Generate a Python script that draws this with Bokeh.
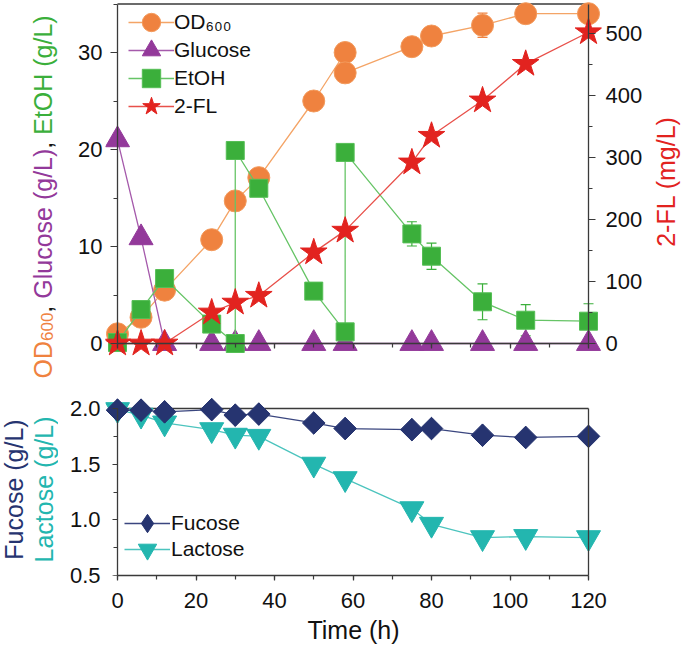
from math import pi
from bokeh.plotting import figure
from bokeh.models import (Range1d, LinearAxis, SingleIntervalTicker, FixedTicker, Label,
                          Legend, LegendItem, ColumnDataSource, Whisker, TeeHead,
                          CustomJSTickFormatter, PrintfTickFormatter)
from bokeh.layouts import column, row
from bokeh.embed import file_html
from bokeh.resources import INLINE

# ---------------- data ----------------
od_time = [0, 6, 12, 24, 30, 36, 50, 58, 58, 75, 80, 93, 104, 120]
od600 = [1.0, 2.7, 5.5, 10.7, 14.7, 17.1, 25.0, 30.0, 27.9, 30.6, 31.7, 32.8, 34.0, 34.0]
od600_err = [0, 0, 0, 0, 0, 0, 0, 0, 0, 0, 0, 1.25, 0, 0]

glc_time = [0, 6, 12, 24, 30, 36, 50, 58, 75, 80, 93, 104, 120]
glucose = [21.0, 10.9, 0, 0, 0, 0, 0, 0, 0, 0, 0, 0, 0]

etoh_time = [0, 6, 12, 24, 30, 30, 36, 50, 58, 58, 75, 80, 93, 104, 120]
etoh = [0.1, 3.5, 6.7, 2.0, 0.0, 19.9, 16.0, 5.4, 1.2, 19.7, 11.3, 9.0, 4.3, 2.4, 2.3]
etoh_err = [0, 0, 0, 0, 0, 0, 0, 0, 0, 0, 1.25, 1.35, 1.85, 1.6, 1.8]

fl_time = [0, 6, 12, 24, 30, 36, 50, 58, 75, 80, 93, 104, 120]
fl2 = [0, 0, 0, 50, 66, 77, 147, 182, 292, 335, 392, 451, 502]

sugar_time = [0, 6, 12, 24, 30, 36, 50, 58, 75, 80, 93, 104, 120]
fucose = [1.985, 1.985, 1.97, 1.99, 1.94, 1.95, 1.87, 1.82, 1.81, 1.82, 1.76, 1.74, 1.75]
lactose = [1.99, 1.94, 1.87, 1.81, 1.76, 1.75, 1.50, 1.37, 1.10, 0.96, 0.84, 0.85, 0.84]

# axis limits
X_MIN, X_MAX = 0, 120
Y1_MIN, Y1_MAX = 0, 35
Y2_MIN, Y2_MAX = 0, 547.5
Y3_MIN, Y3_MAX = 0.5, 2.0

# ---------------- style / layout ----------------
FONT = "Liberation Sans"
ORANGE, ORANGE_L = "#EF823F", "#F4A466"
PURPLE, PURPLE_L = "#93399A", "#A55AAB"
GREEN, GREEN_L = "#3BAF3B", "#66C466"
RED, RED_L = "#E2231F", "#E8504A"
NAVY, NAVY_L = "#263470", "#3A467F"
TEAL, TEAL_L = "#23B6AF", "#4CC4BE"
AX = "#3a3a3a"
TXT = "#111111"

PAGE_W, PAGE_H = 685, 652
WL, WR = 58, 37                 # side title strips
X0_PAGE, PXH = 117, 471 / 120.0  # page x of t=0, px per hour
FR_L, FR_R = 105, 601           # page x of frame edges (a little outside the axes)
H1 = 381
Y0_PAGE1, PX1 = 343, 9.7        # page y of y=0 in top panel, px per unit
FR1_BOT = 357
Y3_PAGE_TOP, PX3 = 408, 167 / 1.5
FR2_TOP, FR2_BOT = 395, 575
H2 = PAGE_H - H1
LEG_GW, LEG_GH, LEG_SP = 46, 50, 6

ARIAL = {'O': .778, 'D': .722, '6': .556, '0': .556, ',': .278, ' ': .278, 'G': .778,
         'l': .222, 'u': .556, 'c': .5, 'o': .556, 's': .5, 'e': .556, '(': .333,
         'g': .556, '/': .278, 'L': .556, ')': .333, 'E': .667, 't': .278, 'H': .722}


def tlen(s, size):
    return sum(ARIAL[c] for c in s) * size


def style_axis(ax, tick_size="22px"):
    ax.axis_line_color = AX
    ax.axis_line_width = 1.3
    ax.major_tick_line_color = AX
    ax.minor_tick_line_color = AX
    ax.major_tick_line_width = 1.2
    ax.minor_tick_line_width = 1.2
    ax.major_label_text_font = FONT
    ax.major_label_text_font_size = tick_size
    ax.major_label_text_color = TXT


def labels_only(ax, standoff):
    ax.axis_line_color = None
    ax.major_tick_line_color = None
    ax.minor_tick_line_color = None
    ax.major_tick_out = ax.major_tick_in = 0
    ax.minor_tick_out = ax.minor_tick_in = 0
    ax.major_label_standoff = standoff
    ax.major_label_text_font = FONT
    ax.major_label_text_font_size = "22px"
    ax.major_label_text_color = TXT


def line_only_axis(**kw):
    ax = LinearAxis(formatter=CustomJSTickFormatter(code="return ''"), **kw)
    style_axis(ax)
    ax.major_label_standoff = 0
    ax.major_label_text_font_size = "0px"
    return ax


def strip(width, height, x0, y_top, y_bot, b_top=0, b_bot=0):
    # data units of a strip = page pixels (y counted downward as negative numbers)
    f = figure(width=width, height=height, output_backend="svg", toolbar_location=None,
               x_range=Range1d(x0, x0 + width), y_range=Range1d(-y_bot, -y_top),
               x_axis_location=None, y_axis_location=None,
               min_border_left=0, min_border_right=0,
               min_border_top=b_top, min_border_bottom=b_bot)
    f.outline_line_color = None
    f.grid.visible = False
    f.background_fill_color = "white"
    f.border_fill_color = "white"
    return f


def xr():
    return Range1d(X_MIN + (FR_L - X0_PAGE) / PXH, X_MIN + (FR_R - X0_PAGE) / PXH)


def legend(items, key_center_x, last_row_center_y, frame_bot, standoff):
    return Legend(items=items,
                  location=(key_center_x - LEG_GW / 2 - FR_L,
                            frame_bot - (last_row_center_y + LEG_GH / 2)),
                  padding=0, margin=0, spacing=LEG_SP,
                  glyph_width=LEG_GW, glyph_height=LEG_GH,
                  label_standoff=standoff, label_text_font=FONT,
                  label_text_font_size="21px", label_text_color=TXT,
                  border_line_color=None, background_fill_alpha=0)


# ================= top panel =================
W1 = PAGE_W - WL - WR
y_hi = Y0_PAGE1 / PX1
y_lo = -(FR1_BOT - Y0_PAGE1) / PX1
ratio = Y2_MAX / Y1_MAX
p1 = figure(width=W1, height=H1, output_backend="svg", toolbar_location=None,
            x_range=xr(), y_range=Range1d(y_lo, y_hi),
            min_border_left=FR_L - WL, min_border_right=(PAGE_W - WR) - FR_R,
            min_border_top=0, min_border_bottom=H1 - FR1_BOT)
p1.extra_y_ranges = {"fl": Range1d(y_lo * ratio, y_hi * ratio)}
p1.outline_line_color = None
p1.grid.visible = False
p1.background_fill_color = "white"
p1.border_fill_color = "white"

yl = p1.yaxis[0]
yl.ticker = SingleIntervalTicker(interval=10)
labels_only(yl, 3)
ax_l = line_only_axis(fixed_location=X_MIN, bounds=(Y1_MIN, Y1_MAX),
                      ticker=SingleIntervalTicker(interval=10, num_minor_ticks=2))
ax_l.major_tick_out, ax_l.major_tick_in = 7, 0
ax_l.minor_tick_out, ax_l.minor_tick_in = 4, 0
p1.add_layout(ax_l, "left")
ax_r = line_only_axis(fixed_location=X_MAX, bounds=(Y2_MIN, Y2_MAX), y_range_name="fl",
                      ticker=SingleIntervalTicker(interval=100, num_minor_ticks=2))
ax_r.major_tick_out, ax_r.major_tick_in = 0, 7
ax_r.minor_tick_out, ax_r.minor_tick_in = 0, 4
p1.add_layout(ax_r, "left")
yr = LinearAxis(y_range_name="fl", ticker=SingleIntervalTicker(interval=100))
labels_only(yr, 4)
p1.add_layout(yr, "right")

xb = p1.xaxis[0]
xb.ticker = SingleIntervalTicker(interval=20, num_minor_ticks=2)
xb.fixed_location = Y1_MIN
xb.bounds = (X_MIN, X_MAX)
xb.formatter = CustomJSTickFormatter(code="return ''")
style_axis(xb)
xb.major_label_standoff = 0
xb.major_label_text_font_size = "0px"
xb.major_tick_out, xb.major_tick_in = 5, 0
xb.minor_tick_out, xb.minor_tick_in = 4, 0

p1.segment(x0=[X_MIN], y0=[Y1_MAX], x1=[X_MAX], y1=[Y1_MAX], line_color=AX, line_width=1.3)


def err_source(t, v, e):
    keep = [i for i, ee in enumerate(e) if ee > 0]
    return ColumnDataSource(dict(x=[t[i] for i in keep],
                                 upper=[v[i] + e[i] for i in keep],
                                 lower=[v[i] - e[i] for i in keep]))


for src, col in ((err_source(od_time, od600, od600_err), ORANGE),
                 (err_source(etoh_time, etoh, etoh_err), GREEN)):
    p1.add_layout(Whisker(source=src, base="x", upper="upper", lower="lower",
                          line_color=col, line_width=1.2, level="underlay",
                          upper_head=TeeHead(size=10, line_color=col, line_width=1.2),
                          lower_head=TeeHead(size=10, line_color=col, line_width=1.2)))

l_od = p1.line(od_time, od600, line_color=ORANGE_L, line_width=1.3)
s_od = p1.scatter(od_time, od600, marker="circle", size=22, fill_color=ORANGE,
                  line_color="#F39A5C", line_width=1)
l_gl = p1.line(glc_time, glucose, line_color=PURPLE_L, line_width=1.3)
s_gl = p1.scatter(glc_time, glucose, marker="triangle", size=24, fill_color=PURPLE,
                  line_color=PURPLE, line_width=1)
l_et = p1.line(etoh_time, etoh, line_color=GREEN_L, line_width=1.3)
s_et = p1.scatter(etoh_time, etoh, marker="square", size=18, fill_color=GREEN,
                  line_color="#55BE55", line_width=1)
l_fl = p1.line(fl_time, fl2, line_color=RED_L, line_width=1.3, y_range_name="fl")
s_fl = p1.scatter(fl_time, fl2, marker="star", size=28, fill_color=RED,
                  line_color=RED, line_width=1, y_range_name="fl")

# two interleaved legends give a 28 px row pitch with tall glyph boxes
p1.add_layout(legend([LegendItem(label="OD\u2086\u2080\u2080", renderers=[l_od, s_od]),
                      LegendItem(label="EtOH", renderers=[l_et, s_et])],
                     151, 78, FR1_BOT, 0))
p1.add_layout(legend([LegendItem(label="Glucose", renderers=[l_gl, s_gl]),
                      LegendItem(label="2-FL", renderers=[l_fl, s_fl])],
                     151, 106, FR1_BOT, 0))

# right title strip (same vertical borders as the top panel)
labr = strip(WR, H1, PAGE_W - WR, 0, FR1_BOT, 0, H1 - FR1_BOT)
labr.add_layout(Label(x=665, y=-181, text="2-FL (mg/L)", angle=pi / 2,
                      angle_units="rad", text_align="center", text_baseline="middle",
                      text_font=FONT, text_font_size="25px", text_color=RED))

# ================= bottom panel =================
W2 = PAGE_W - WL
y3_hi = Y3_MAX + (Y3_PAGE_TOP - FR2_TOP) / PX3
p2 = figure(width=W2, height=H2, output_backend="svg", toolbar_location=None,
            x_range=xr(), y_range=Range1d(Y3_MIN, y3_hi),
            min_border_left=FR_L - WL, min_border_right=PAGE_W - FR_R,
            min_border_top=FR2_TOP - H1, min_border_bottom=PAGE_H - FR2_BOT)
p2.outline_line_color = None
p2.grid.visible = False
p2.background_fill_color = "white"
p2.border_fill_color = "white"

yl2 = p2.yaxis[0]
yl2.ticker = SingleIntervalTicker(interval=0.5)
yl2.formatter = PrintfTickFormatter(format="%.1f")
labels_only(yl2, 5)
ax_l2 = line_only_axis(fixed_location=X_MIN, bounds=(Y3_MIN, Y3_MAX),
                       ticker=SingleIntervalTicker(interval=0.5, num_minor_ticks=2))
ax_l2.major_tick_out, ax_l2.major_tick_in = 5, 0
ax_l2.minor_tick_out, ax_l2.minor_tick_in = 4, 0
p2.add_layout(ax_l2, "left")
ax_r2 = line_only_axis(fixed_location=X_MAX, bounds=(Y3_MIN, Y3_MAX), ticker=FixedTicker(ticks=[]))
ax_r2.major_tick_out = ax_r2.major_tick_in = 0
p2.add_layout(ax_r2, "left")

xb2 = p2.xaxis[0]
xb2.ticker = SingleIntervalTicker(interval=20, num_minor_ticks=2)
xb2.bounds = (X_MIN, X_MAX)
style_axis(xb2)
xb2.major_tick_out, xb2.major_tick_in = 5, 0
xb2.minor_tick_out, xb2.minor_tick_in = 4, 0
xb2.major_label_standoff = 12
xb2.axis_label = "Time (h)"
xb2.axis_label_text_font = FONT
xb2.axis_label_text_font_size = "25px"
xb2.axis_label_text_font_style = "normal"
xb2.axis_label_text_color = TXT
xb2.axis_label_standoff = 5

p2.segment(x0=[X_MIN], y0=[Y3_MAX], x1=[X_MAX], y1=[Y3_MAX], line_color=AX, line_width=1.3)

l_la = p2.line(sugar_time, lactose, line_color=TEAL_L, line_width=1.3)
s_la = p2.scatter(sugar_time, lactose, marker="inverted_triangle", size=24, fill_color=TEAL,
                  line_color=TEAL, line_width=1)
l_fu = p2.line(sugar_time, fucose, line_color=NAVY_L, line_width=1.3)
# diamond (used by the legend key) sits fully inside the rotated square of each point
d_fu = p2.scatter(sugar_time, fucose, marker="diamond", size=22,
                  fill_color=NAVY, line_color=NAVY, line_width=1)
s_fu = p2.scatter(sugar_time, fucose, marker="square", angle=pi / 4, size=16,
                  fill_color=NAVY, line_color=NAVY, line_width=1)

p2.add_layout(legend([LegendItem(label="Fucose", renderers=[l_fu, d_fu])], 147, 523, FR2_BOT, 1))
p2.add_layout(legend([LegendItem(label="Lactose", renderers=[l_la, s_la])], 147, 549, FR2_BOT, 1))

# ================= left title strip (full height) =================
labl = strip(WL, PAGE_H, 0, 0, PAGE_H)
cur = 378.0
parts = [("OD", "OD", 25, ORANGE, 0), ("600", "600", 17, ORANGE, 4),
         (",", ", ", 25, TXT, 0), ("Glucose (g/L)", "Glucose (g/L)", 25, PURPLE, 0),
         (",", ", ", 25, TXT, 0), ("EtOH (g/L)", "EtOH (g/L)", 25, GREEN, 0)]
for txt, adv, size, col, xo in parts:
    labl.add_layout(Label(x=42, y=-cur, text=txt, angle=pi / 2, angle_units="rad",
                          text_align="left", text_baseline="middle", x_offset=xo,
                          text_font=FONT, text_font_size=f"{size}px", text_color=col))
    cur -= tlen(adv, size)
for txt, xc, col in (("Fucose (g/L)", 13, NAVY), ("Lactose (g/L)", 43, TEAL)):
    labl.add_layout(Label(x=xc, y=-489, text=txt, angle=pi / 2, angle_units="rad",
                          text_align="center", text_baseline="middle",
                          text_font=FONT, text_font_size="25px", text_color=col))

layout = row(labl, column(row(p1, labr, spacing=0), p2, spacing=0), spacing=0)
open("out.html", "w").write(file_html(layout, INLINE))
